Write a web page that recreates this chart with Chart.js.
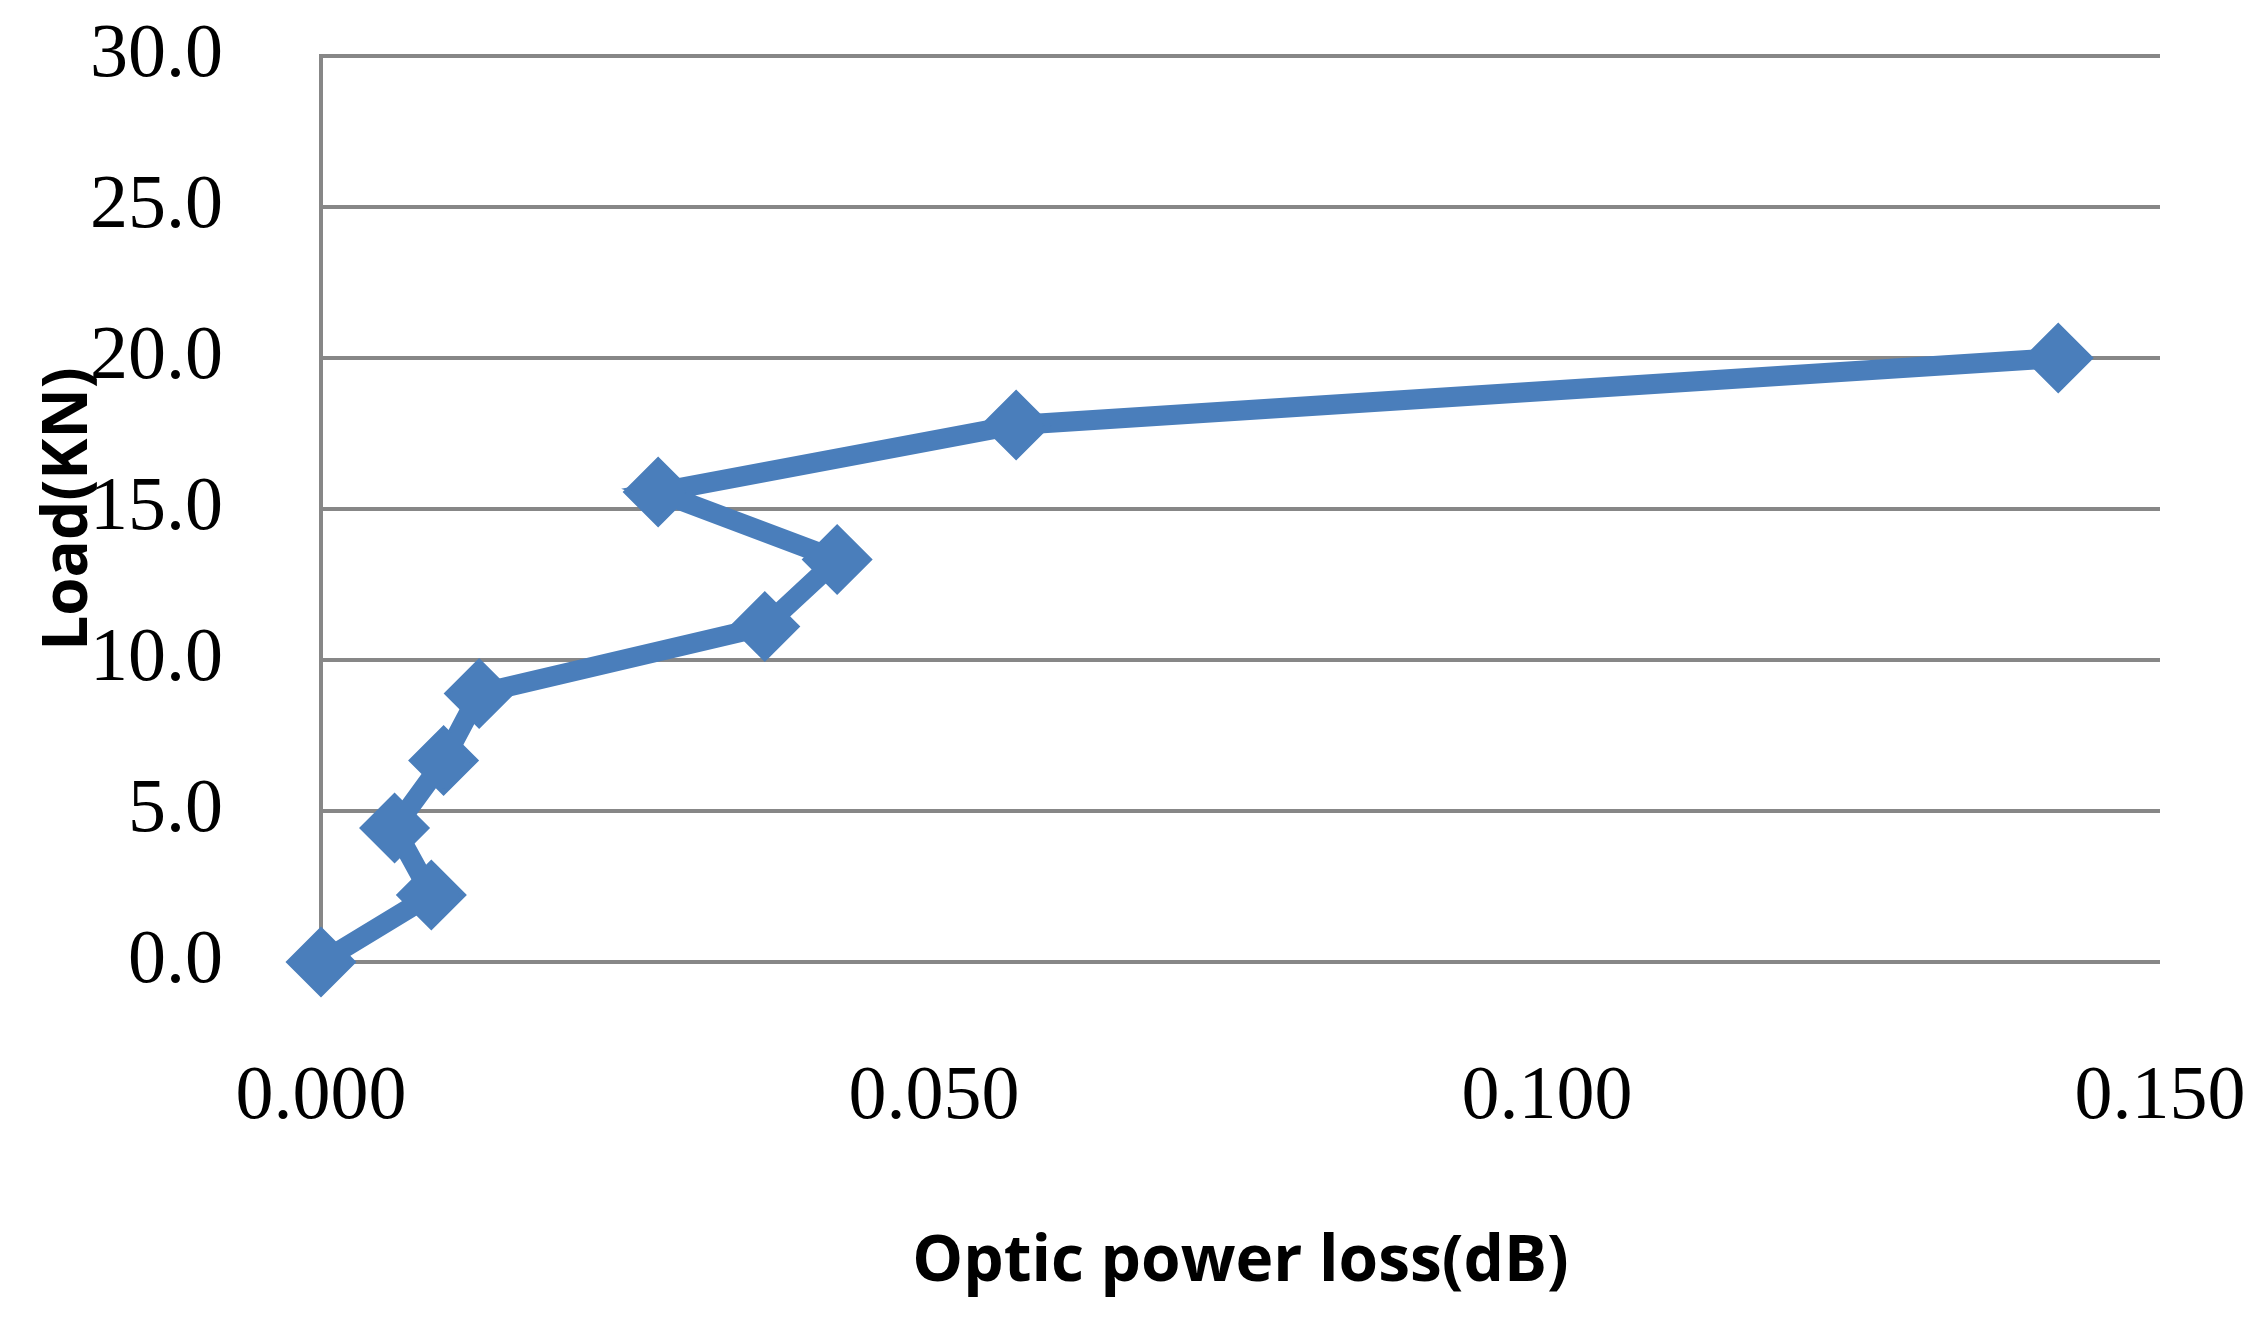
<!DOCTYPE html>
<html>
<head>
<meta charset="utf-8">
<script src="https://cdn.jsdelivr.net/npm/chart.js@4/dist/chart.umd.min.js"></script>
<style>
  html, body { margin: 0; padding: 0; background: #ffffff; }
  #wrap { width: 2265px; height: 1327px; position: relative; }
</style>
</head>
<body>
<div id="wrap"><canvas id="c" width="2265" height="1327"></canvas></div>
<script>
// ---- data ----
const lossDb = [0.000, 0.0090, 0.0060, 0.0100, 0.0129, 0.0362, 0.0421, 0.0275, 0.0567, 0.1417];
const loadKN = [0.00, 2.22, 4.44, 6.67, 8.89, 11.11, 13.33, 15.56, 17.78, 20.00];
const xTickLabels = ['0.000', '0.050', '0.100', '0.150'];
const yTickLabels = ['0.0', '5.0', '10.0', '15.0', '20.0', '25.0', '30.0'];
const xTitle = 'Optic power loss(dB)';
const yTitle = 'Load(KN)';

const points = lossDb.map((x, i) => ({ x: x, y: loadKN[i] }));

const BLUE = '#4A7EBB';
const GRID = '#878787';

const titlePlugin = {
  id: 'axisTitles',
  afterDraw(chart) {
    const ctx = chart.ctx;
    const a = chart.chartArea;
    ctx.save();
    ctx.fillStyle = '#000000';
    ctx.font = 'bold 64px "Open Sans"';
    ctx.textAlign = 'center';
    ctx.textBaseline = 'alphabetic';
    ctx.fillText(xTitle, (a.left + a.right) / 2, 1281);
    ctx.translate(87, (a.top + a.bottom) / 2);
    ctx.rotate(-Math.PI / 2);
    ctx.font = 'bold 62px "Open Sans"';
    ctx.fillText(yTitle, 0, 0);
    ctx.restore();
  }
};

new Chart(document.getElementById('c'), {
  type: 'scatter',
  data: {
    datasets: [{
      data: points,
      showLine: true,
      borderColor: BLUE,
      backgroundColor: BLUE,
      borderWidth: 20,
      tension: 0,
      pointStyle: 'rectRot',
      pointRadius: 32,
      pointBorderWidth: 5,
      pointBorderColor: BLUE,
      pointBackgroundColor: BLUE,
      clip: false
    }]
  },
  options: {
    responsive: false,
    animation: false,
    devicePixelRatio: 1,
    layout: { padding: { left: 0, top: 56, right: 105, bottom: 0 } },
    plugins: {
      legend: { display: false },
      tooltip: { enabled: false },
      title: { display: false }
    },
    scales: {
      x: {
        type: 'linear',
        min: 0,
        max: 0.15,
        afterFit(s) {
          s.height = 365;
          s.paddingLeft = 0; s.paddingRight = 0; s.paddingTop = 0; s.paddingBottom = 0;
        },
        afterBuildTicks(s) { s.ticks = xTickLabels.map(t => ({ value: parseFloat(t) })); },
        ticks: {
          autoSkip: false,
          maxRotation: 0,
          padding: 90,
          color: '#000000',
          font: { family: '"Liberation Serif"', size: 76 },
          callback: (v, i) => xTickLabels[i]
        },
        grid: { display: false, drawTicks: false },
        border: { display: false }
      },
      y: {
        type: 'linear',
        min: 0,
        max: 30,
        afterFit(s) {
          s.width = 321;
          s.paddingLeft = 0; s.paddingRight = 0; s.paddingTop = 0; s.paddingBottom = 0;
        },
        afterBuildTicks(s) { s.ticks = yTickLabels.map(t => ({ value: parseFloat(t) })); },
        ticks: {
          autoSkip: false,
          padding: 98,
          color: '#000000',
          font: { family: '"Liberation Serif"', size: 76 },
          callback: (v, i) => yTickLabels[i]
        },
        grid: { color: GRID, lineWidth: 4, drawTicks: false },
        border: { display: true, color: GRID, width: 4 }
      }
    }
  },
  plugins: [titlePlugin]
});
</script>
</body>
</html>
